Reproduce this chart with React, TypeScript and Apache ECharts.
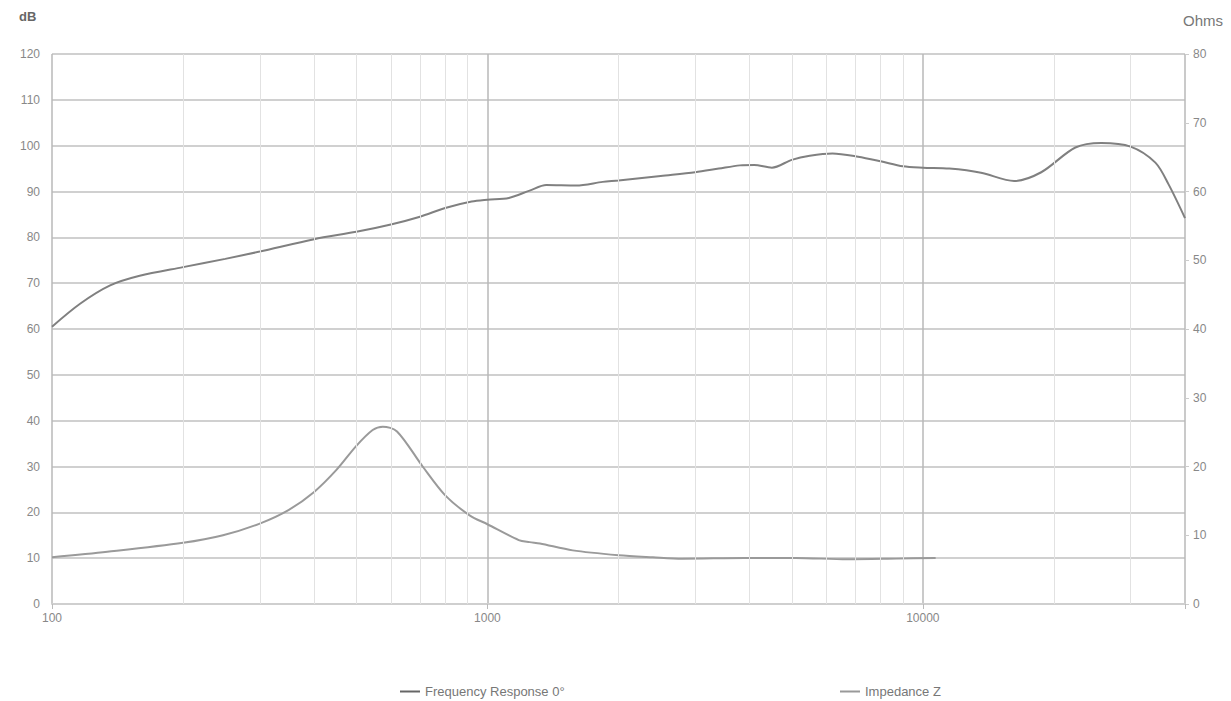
import React, { useEffect, useRef } from 'react'
import * as echarts from 'echarts'

// Frequency response 0° (dB, left axis)
const frFreq = [100, 116, 136, 159, 200, 250, 300, 400, 500, 600, 700, 800, 920, 1000, 1120, 1250, 1365, 1600, 1840, 2000, 2500, 3000, 3400, 3800, 4100, 4500, 5000, 5500, 6200, 7100, 8000, 9000, 10000, 11500, 13600, 16200, 18700, 22400, 25700, 30000, 34200, 36700, 40000]
const frDb = [60.5, 65.5, 69.5, 71.6, 73.5, 75.3, 76.9, 79.6, 81.2, 82.8, 84.5, 86.4, 87.8, 88.2, 88.6, 90.2, 91.4, 91.3, 92.1, 92.4, 93.4, 94.2, 95.0, 95.7, 95.8, 95.2, 96.9, 97.8, 98.3, 97.6, 96.6, 95.5, 95.2, 95.0, 94.1, 92.3, 94.2, 99.6, 100.6, 99.8, 96.3, 91.5, 84.2]

// Impedance Z (Ohms, right axis)
const zFreq = [100, 134, 200, 247, 300, 350, 400, 450, 500, 545, 575, 620, 710, 800, 910, 1000, 1180, 1250, 1320, 1570, 2000, 2400, 2800, 3900, 5100, 6700, 8700, 10700]
const zOhms = [6.8, 7.6, 8.9, 10.0, 11.7, 13.7, 16.3, 19.5, 23.0, 25.3, 25.8, 25.1, 20.0, 15.8, 12.9, 11.6, 9.3, 9.0, 8.8, 7.8, 7.1, 6.8, 6.6, 6.7, 6.7, 6.5, 6.6, 6.7]

// minor vertical grid lines
const minorFreqs = [200, 300, 400, 500, 600, 700, 800, 900, 2000, 3000, 4000, 5000, 6000, 7000, 8000, 9000, 20000, 30000]
const xLabels = [100, 1000, 10000]

const labelFont = 'Arial, "Liberation Sans", sans-serif'

const App: React.FC = () => {
  const chartRef = useRef<HTMLDivElement>(null)

  useEffect(() => {
    if (!chartRef.current) return
    const chart = echarts.init(chartRef.current, null, { renderer: 'svg' })

    const option: any = {
      animation: false,
      backgroundColor: '#ffffff',
      grid: { left: 52, right: 46, top: 54, bottom: 97 },
      graphic: [
        { type: 'text', left: 19, top: 10, style: { text: 'dB', fontSize: 13, fontWeight: 'bold', fill: '#666', fontFamily: labelFont } },
        { type: 'text', right: 8, top: 13, style: { text: 'Ohms', fontSize: 15, fill: '#777', fontFamily: labelFont } }
      ],
      legend: [
        {
          left: 395, top: 680, itemWidth: 20, itemHeight: 2, itemGap: 0,
          icon: 'rect',
          data: ['Frequency Response 0°'],
          textStyle: { color: '#777', fontSize: 13, fontFamily: labelFont }
        },
        {
          left: 835, top: 680, itemWidth: 20, itemHeight: 2, itemGap: 0,
          icon: 'rect',
          data: ['Impedance Z'],
          textStyle: { color: '#777', fontSize: 13, fontFamily: labelFont }
        }
      ],
      xAxis: {
        type: 'log',
        logBase: 10,
        min: 100,
        max: 40000,
        axisLine: { show: true, lineStyle: { color: '#cfcfcf', width: 2 } },
        axisTick: { show: true, length: 5, lineStyle: { color: '#bbb' } },
        axisLabel: {
          color: '#888',
          fontSize: 12,
          fontFamily: labelFont,
          margin: 8,
          formatter: (v: number) => (xLabels.includes(Math.round(v)) ? String(Math.round(v)) : '')
        },
        splitLine: { show: true, lineStyle: { color: '#b8b8b8', width: 1.5 } }
      },
      yAxis: [
        {
          type: 'value',
          min: 0,
          max: 120,
          interval: 10,
          axisLine: { show: false },
          axisTick: { show: false },
          axisLabel: { color: '#888', fontSize: 12, fontFamily: labelFont, margin: 12 },
          splitLine: { show: true, lineStyle: { color: '#d0d0d0', width: 2 } }
        },
        {
          type: 'value',
          min: 0,
          max: 80,
          interval: 10,
          position: 'right',
          axisLine: { show: false },
          axisTick: { show: true, length: 4, lineStyle: { color: '#ccc' } },
          axisLabel: { color: '#888', fontSize: 12, fontFamily: labelFont, margin: 8 },
          splitLine: { show: false }
        }
      ],
      series: [
        {
          name: 'minor',
          type: 'line',
          data: [],
          silent: true,
          z: 1,
          markLine: {
            silent: true,
            symbol: 'none',
            label: { show: false },
            lineStyle: { color: '#e2e2e2', width: 1, type: 'solid' },
            data: minorFreqs.map(f => ({ xAxis: f }))
          }
        },
        {
          name: 'Frequency Response 0°',
          type: 'line',
          yAxisIndex: 0,
          data: frFreq.map((f, i) => [f, frDb[i]]),
          smooth: 0.3,
          showSymbol: false,
          z: 3,
          lineStyle: { color: '#808080', width: 2 },
          itemStyle: { color: '#666' }
        },
        {
          name: 'Impedance Z',
          type: 'line',
          yAxisIndex: 1,
          data: zFreq.map((f, i) => [f, zOhms[i]]),
          smooth: 0.3,
          showSymbol: false,
          z: 2,
          lineStyle: { color: '#9a9a9a', width: 2 },
          itemStyle: { color: '#999' }
        }
      ]
    }

    chart.setOption(option)
    return () => {
      chart.dispose()
    }
  }, [])

  return (
    <div
      ref={chartRef}
      style={{ position: 'absolute', left: 0, top: 0, width: '1231px', height: '701px' }}
    />
  )
}

export default App
